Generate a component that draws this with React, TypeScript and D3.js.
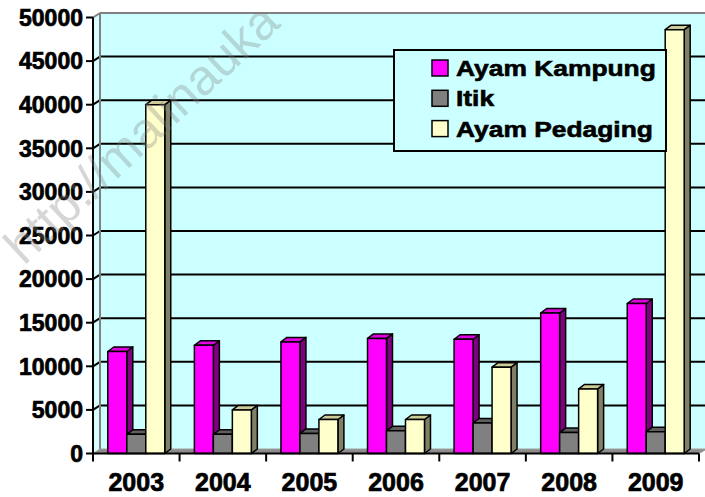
import React from "react";
import * as d3 from "d3";

const years = ["2003", "2004", "2005", "2006", "2007", "2008", "2009"];
const seriesNames = ["Ayam Kampung", "Itik", "Ayam Pedaging"];
const ayamKampung = [11700, 12400, 12800, 13200, 13100, 16100, 17200];
const itik = [2200, 2200, 2300, 2600, 3500, 2400, 2500];
const ayamPedaging = [40000, 5000, 3900, 3900, 9900, 7400, 48600];
const yTicks = [0, 5000, 10000, 15000, 20000, 25000, 30000, 35000, 40000, 45000, 50000];

const seriesValues = [ayamKampung, itik, ayamPedaging];
const faceColors = [
  { front: "#FF00FF", top: "#E000E0", side: "#800080" },
  { front: "#808080", top: "#5E5E5E", side: "#404040" },
  { front: "#FFFFCC", top: "#CCCC99", side: "#808066" },
];

const W = 705;
const H = 497;
const axisX0 = 93;
const axisX1 = 699;
const DX = 7;
const DY = -4.5;
const BDX = 6;
const BDY = -4.5;

export default function App() {
  const y = d3.scaleLinear().domain([0, 50000]).range([453.5, 17.5]);
  const x0 = d3.scaleBand<string>().domain(years).range([axisX0, axisX1]).padding(0);
  const x1 = d3
    .scaleBand<string>()
    .domain(seriesNames)
    .range([0, x0.bandwidth()])
    .paddingInner(0)
    .paddingOuter(0.78);

  const base = y(0);
  const wallLeft = axisX0 + DX;
  const wallTop = y(50000) + DY;
  const wallBottom = base + DY;

  const bars: JSX.Element[] = [];
  years.forEach((yr, i) => {
    seriesNames.forEach((s, j) => {
      const v = seriesValues[j][i];
      const xl = (x0(yr) as number) + (x1(s) as number);
      const w = x1.bandwidth();
      const yt = y(v);
      const c = faceColors[j];
      const topPts = [
        [xl, yt],
        [xl + BDX, yt + BDY],
        [xl + w + BDX, yt + BDY],
        [xl + w, yt],
      ];
      const sidePts = [
        [xl + w, yt],
        [xl + w + BDX, yt + BDY],
        [xl + w + BDX, base + BDY],
        [xl + w, base],
      ];
      bars.push(
        <g key={`${yr}-${s}`} stroke="#000" strokeWidth={1.5} strokeLinejoin="round">
          <polygon points={sidePts.map((p) => p.join(",")).join(" ")} fill={c.side} />
          <polygon points={topPts.map((p) => p.join(",")).join(" ")} fill={c.top} />
          <rect x={xl} y={yt} width={w} height={base - yt} fill={c.front} />
        </g>
      );
    });
  });

  const fontFam = "Liberation Sans, Arial, Helvetica, sans-serif";

  return (
    <svg
      width={W}
      height={H}
      style={{ position: "absolute", left: 0, top: 0, background: "#fff" }}
    >
      {/* side wall */}
      <polygon
        points={`${axisX0},${y(50000)} ${wallLeft},${wallTop} ${wallLeft},${wallBottom} ${axisX0},${base}`}
        fill="#D8FFFF"
      />
      {/* back wall */}
      <rect x={wallLeft} y={wallTop} width={W + 2 - wallLeft} height={wallBottom - wallTop} fill="#CCFFFF" />
      {/* gridlines */}
      {yTicks
        .filter((t) => t > 0 && t < 50000)
        .map((t) => (
          <g key={`g${t}`} stroke="#000" strokeWidth={2}>
            <line x1={wallLeft} x2={W + 2} y1={y(t) + DY} y2={y(t) + DY} />
            <line x1={axisX0} x2={wallLeft} y1={y(t)} y2={y(t) + DY} />
          </g>
        ))}
      {/* wall borders */}
      <g stroke="#808080" strokeWidth={2} fill="none">
        <line x1={wallLeft} x2={W + 2} y1={wallTop} y2={wallTop} />
        <line x1={axisX0} x2={wallLeft} y1={y(50000)} y2={wallTop} />
        <line x1={wallLeft} x2={wallLeft} y1={wallTop} y2={wallBottom} />
      </g>
      {/* floor */}
      <polygon
        points={`${axisX0},${base} ${wallLeft},${wallBottom} ${W + 2},${wallBottom} ${axisX1},${base}`}
        fill="#8C8C8C"
        stroke="#A0A0A0"
        strokeWidth={1}
      />
      {bars}
      {/* axes */}
      <g stroke="#000" strokeWidth={2}>
        <line x1={axisX0} x2={axisX0} y1={y(50000)} y2={base} />
        {yTicks.map((t) => (
          <line key={`yt${t}`} x1={axisX0 - 7} x2={axisX0} y1={y(t)} y2={y(t)} />
        ))}
        <line x1={axisX0} x2={axisX1} y1={base} y2={base} />
        {[...years.map((yr) => x0(yr) as number), axisX1].map((xv, i) => (
          <line key={`xt${i}`} x1={xv} x2={xv} y1={base} y2={base + 8} />
        ))}
      </g>
      {yTicks.map((t) => (
        <text
          key={`yl${t}`}
          x={83}
          y={y(t)}
          textAnchor="end"
          dy="0.36em"
          style={{ fontFamily: fontFam, fontWeight: 700, fontSize: "23px" }}
          fill="#000"
          stroke="#000"
          strokeWidth={0.7}
        >
          {t}
        </text>
      ))}
      {years.map((yr) => (
        <text
          key={`xl${yr}`}
          x={(x0(yr) as number) + x0.bandwidth() / 2}
          y={491}
          textAnchor="middle"
          style={{ fontFamily: fontFam, fontWeight: 700, fontSize: "25px" }}
          fill="#000"
          stroke="#000"
          strokeWidth={0.7}
        >
          {yr}
        </text>
      ))}
      {/* legend */}
      <rect x={394} y={50} width={272} height={101} fill="#CCFFFF" stroke="#000" strokeWidth={2} />
      {seriesNames.map((s, j) => (
        <g key={`lg${s}`}>
          <rect
            x={432}
            y={60 + j * 30.3}
            width={16}
            height={16}
            fill={faceColors[j].front}
            stroke="#000"
            strokeWidth={1.5}
          />
          <text
            transform={`translate(456,${76 + j * 30.3}) scale(1.2,1)`}
            style={{ fontFamily: fontFam, fontWeight: 700, fontSize: "22px" }}
            fill="#000"
            stroke="#000"
            strokeWidth={0.6}
          >
            {s}
          </text>
        </g>
      ))}
      {/* watermark */}
      <text
        transform="translate(24,266) rotate(-43)"
        style={{ fontFamily: fontFam, fontSize: "50px" }}
        fill="#808080"
        fillOpacity={0.32}
      >
        http://malinauka
      </text>
    </svg>
  );
}
